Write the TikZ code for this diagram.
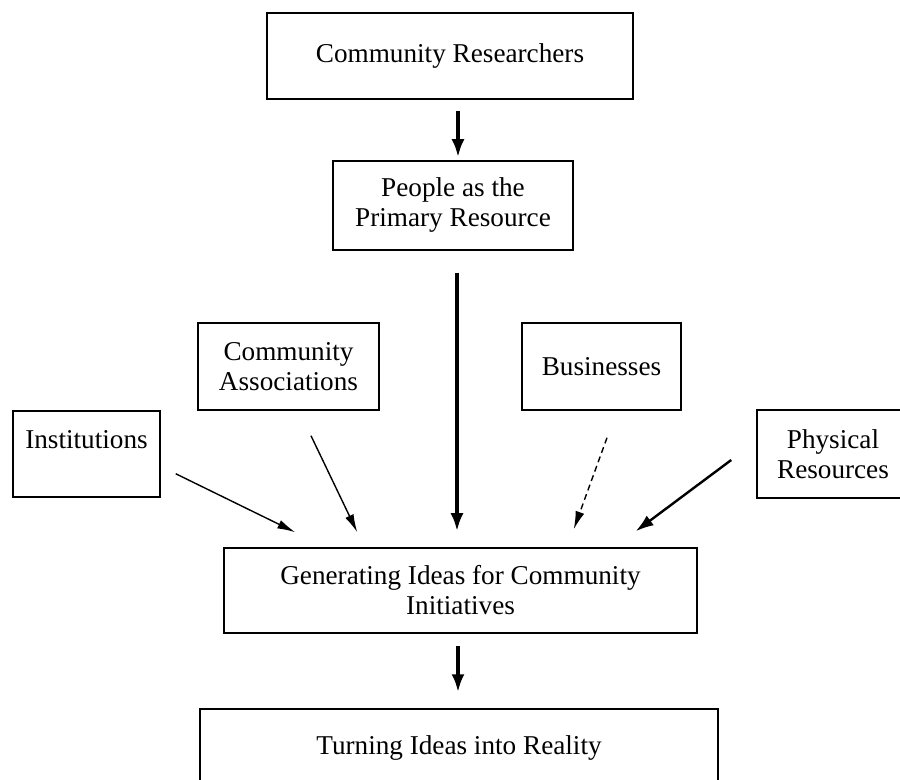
\documentclass[tikz,border=0pt]{standalone}
\usepackage{fontspec}
\setmainfont{Liberation Serif}
\usetikzlibrary{arrows.meta}

\tikzset{
  box/.style={draw, line width=0.75pt, inner sep=0pt, align=center},
  bigarrow/.style={line width=2pt, -{Latex[length=9pt,width=6.5pt]}},
  midarrow/.style={line width=1.2pt, -{Latex[length=9pt,width=6pt]}},
  thinarrow/.style={line width=0.7pt, -{Latex[length=9pt,width=4.5pt]}}
}

\begin{document}
\begin{tikzpicture}[x=0.5pt, y=-0.5pt, font=\fontsize{13.6}{15}\selectfont]
\useasboundingbox (0,0) rectangle (900,780);

\node[box, minimum width=183pt, minimum height=43pt] (researchers) at (450,56) {Community Researchers}; %top
\node[box, minimum width=120pt, minimum height=44.5pt] (people) at (453,205.5) {People as the\\Primary Resource};

\node[box, minimum width=90.5pt, minimum height=43.5pt] (assoc) at (288.5,366.5) {Community\\Associations};
\node[box, minimum width=79.5pt, minimum height=43.5pt] (business) at (601.5,366.5) {Businesses};
\node[box, minimum width=73.5pt, minimum height=43pt] (inst) at (86.5,454) {Institutions\\~};
\node[box, minimum width=76pt, minimum height=44pt] (physical) at (833,454) {Physical\\Resources};

\node[box, minimum width=236.5pt, minimum height=42.5pt] (ideas) at (460.5,590.5) {Generating Ideas for Community\\Initiatives};
\node[box, minimum width=259pt, minimum height=39pt] (reality) at (459,748) {Turning Ideas into Reality}; %bottom

\draw[bigarrow] ([shift={(8,11)}]researchers.south) -- ([shift={(5,-3)}]people.north);
\draw[bigarrow] ([shift={(4,22)}]people.south) -- ([shift={(-3.5,-16)}]ideas.north);
\draw[bigarrow] ([shift={(-2.5,12)}]ideas.south) -- ([shift={(-1,-16)}]reality.north);

\draw[thinarrow] ([shift={(15,-24)}]inst.south east) -- ([shift={(72,-15)}]ideas.north west); %institutions
\draw[thinarrow] ([shift={(22.5,25)}]assoc.south) -- ([shift={(134,-15)}]ideas.north west); %associations
\draw[thinarrow, densely dashed] ([shift={(5.5,27)}]business.south) -- ([shift={(-124,-18)}]ideas.north east); %businesses
\draw[midarrow] ([shift={(-25,6)}]physical.west) -- ([shift={(-62,-16)}]ideas.north east); %physical

\end{tikzpicture}
\end{document}
